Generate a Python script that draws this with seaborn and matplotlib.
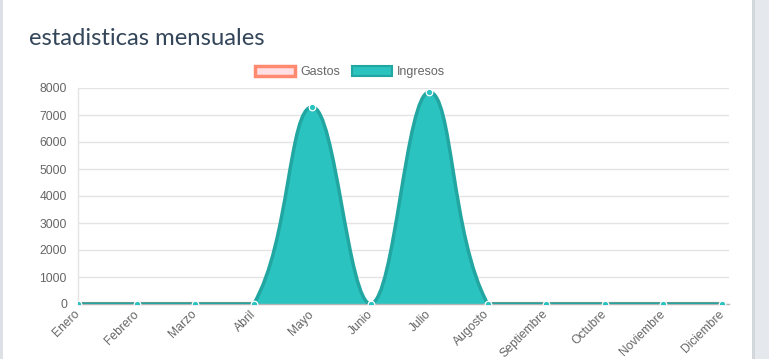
import matplotlib
matplotlib.use("Agg")
import matplotlib.pyplot as plt
from matplotlib.path import Path
from matplotlib.patches import PathPatch, Patch, Rectangle
import numpy as np
import pandas as pd
import seaborn as sns

# --- Data ---
meses = ["Enero", "Febrero", "Marzo", "Abril", "Mayo", "Junio", "Julio",
         "Augosto", "Septiembre", "Octubre", "Noviembre", "Diciembre"]
ingresos = [0, 0, 0, 0, 7300, 0, 7850, 0, 0, 0, 0, 0]
gastos = [0, 0, 0, 0, 0, 0, 0, 0, 0, 0, 0, 0]
y_ticks = [0, 1000, 2000, 3000, 4000, 5000, 6000, 7000, 8000]

TEAL = "#2bc3bf"
TEAL_LINE = "#22a6a2"
PINK = "#ffdfe4"
SALMON = "#ff8a6f"

W, H = 769, 359
# plot area in pixels
X0, X1, Y0, Y1 = 78, 729, 304, 88
STEP = (722 - 78) / 11


def chartjs_path(values, ymax, tension=0.4, closed=False):
    # cubic bezier like Chart.js, control points computed in pixel space
    sx, sy = STEP, (Y0 - Y1) / ymax
    n = len(values)
    pts = [(i, v) for i, v in enumerate(values)]
    cps = []
    for i in range(n):
        px, py = pts[max(i - 1, 0)]
        cx, cy = pts[i]
        nx, ny = pts[min(i + 1, n - 1)]
        d01 = np.hypot((cx - px) * sx, (cy - py) * sy)
        d12 = np.hypot((nx - cx) * sx, (ny - cy) * sy)
        tot = d01 + d12
        s01 = d01 / tot if tot else 0
        s12 = d12 / tot if tot else 0
        fa, fb = tension * s01, tension * s12
        prev_cp = (cx - fa * (nx - px), cy - fa * (ny - py))
        next_cp = (cx + fb * (nx - px), cy + fb * (ny - py))
        clamp = lambda p: (min(max(p[0], 0), n - 1), min(max(p[1], 0), ymax))
        cps.append((clamp(prev_cp), clamp(next_cp)))
    verts = [pts[0]]
    codes = [Path.MOVETO]
    for i in range(n - 1):
        verts += [cps[i][1], cps[i + 1][0], pts[i + 1]]
        codes += [Path.CURVE4] * 3
    if closed:
        verts += [(n - 1, 0), (0, 0), (0, 0)]
        codes += [Path.LINETO, Path.LINETO, Path.CLOSEPOLY]
    return Path(verts, codes)


sns.set_theme(style="white")
plt.rcParams["font.family"] = ["Liberation Sans", "DejaVu Sans"]

fig = plt.figure(figsize=(W / 100, H / 100), dpi=100, facecolor="white")

# page background around the card
fig.patches.append(Rectangle((0, 0), 3 / W, 1, transform=fig.transFigure,
                             facecolor="#dde1e6", edgecolor="none", zorder=0))
fig.patches.append(Rectangle((752 / W, 0), 17 / W, 1, transform=fig.transFigure,
                             facecolor="#e5e9ee", edgecolor="none", zorder=0))
fig.patches.append(Rectangle((752 / W, 0), 3 / W, 1, transform=fig.transFigure,
                             facecolor="#d2d7dc", edgecolor="none", zorder=0))

fig.text(29 / W, 1 - 45 / H, "estadisticas mensuales", fontsize=17.2,
         color="#34465a", family=["Lato", "DejaVu Sans"])

ax = fig.add_axes([X0 / W, 1 - Y0 / H, (X1 - X0) / W, (Y0 - Y1) / H])
ax.set_facecolor("none")

ymax = y_ticks[-1]
# Gastos (underneath)
ax.add_patch(PathPatch(chartjs_path(gastos, ymax, closed=True), facecolor=PINK,
                       edgecolor="none", zorder=1))
ax.add_patch(PathPatch(chartjs_path(gastos, ymax), facecolor="none",
                       edgecolor=SALMON, lw=3, zorder=1.5))
# Ingresos
ax.add_patch(PathPatch(chartjs_path(ingresos, ymax, closed=True), facecolor=TEAL,
                       edgecolor="none", zorder=2))
ax.add_patch(PathPatch(chartjs_path(ingresos, ymax), facecolor="none",
                       edgecolor=TEAL_LINE, lw=2.5, zorder=3,
                       capstyle="round", joinstyle="round"))

df = pd.DataFrame({"mes": range(len(meses)), "ingresos": ingresos})
sns.scatterplot(data=df, x="mes", y="ingresos", ax=ax, color=TEAL, s=22,
                edgecolor="white", linewidth=0.9, zorder=4, clip_on=True)

ax.set_xlim(0, (X1 - X0) / STEP)
ax.set_ylim(0, ymax)
ax.set_xticks(range(len(meses)))
ax.set_xticklabels(meses, rotation=45, ha="right", va="center",
                   rotation_mode="anchor")
ax.set_yticks(y_ticks)
ax.set_yticklabels([str(v) for v in y_ticks])
ax.tick_params(axis="both", colors="#666666", labelsize=8.7)
ax.tick_params(axis="y", pad=3, length=5, color="#e4e4e4")
ax.tick_params(axis="x", pad=6, length=0)
ax.set_xlabel("")
ax.set_ylabel("")
ax.yaxis.grid(True, color="#e4e4e4", lw=1)
ax.set_axisbelow(True)
for s in ["top", "right"]:
    ax.spines[s].set_visible(False)
ax.spines["left"].set_color("#e4e4e4")
ax.spines["left"].set_linewidth(1)
ax.spines["bottom"].set_color("#b5b5b5")
ax.spines["bottom"].set_linewidth(1)

handles = [Patch(facecolor=PINK, edgecolor=SALMON, lw=2.5, label="Gastos"),
           Patch(facecolor=TEAL, edgecolor=TEAL_LINE, lw=1.5, label="Ingresos")]
leg = fig.legend(handles=handles, loc="center", bbox_to_anchor=(350 / W, 1 - 72 / H),
                 ncol=2, frameon=False, fontsize=9, handlelength=3.2,
                 handleheight=0.85, handletextpad=0.45, columnspacing=0.9)
for t in leg.get_texts():
    t.set_color("#666666")

fig.savefig("out.png", dpi=100, facecolor=fig.get_facecolor())
